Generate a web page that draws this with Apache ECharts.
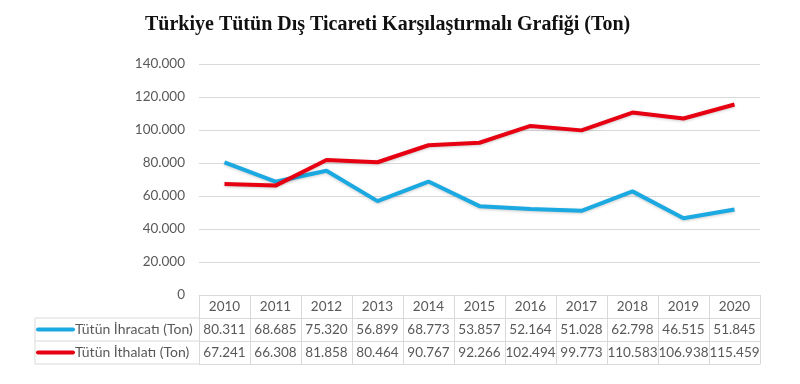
<!DOCTYPE html>
<html><head><meta charset="utf-8">
<script src="https://cdn.jsdelivr.net/npm/echarts@6/dist/echarts.min.js"></script>
<style>html,body{margin:0;padding:0;background:#fff}#c{width:800px;height:384px}</style>
</head><body><div id="c"></div>
<script>
const titleText = 'Türkiye Tütün Dış Ticareti Karşılaştırmalı Grafiği (Ton)';
const years = ['2010','2011','2012','2013','2014','2015','2016','2017','2018','2019','2020'];
const exportName = 'Tütün İhracatı (Ton)';
const importName = 'Tütün İthalatı (Ton)';
const exportValues = [80311, 68685, 75320, 56899, 68773, 53857, 52164, 51028, 62798, 46515, 51845];
const importValues = [67241, 66308, 81858, 80464, 90767, 92266, 102494, 99773, 110583, 106938, 115459];
const yTicks = [0, 20000, 40000, 60000, 80000, 100000, 120000, 140000];

function fmt(v){ return String(v).replace(/\B(?=(\d{3})+(?!\d))/g, '.'); }

const blue = '#1AA9E0', red = '#E60012', gridC = '#d9d9d9', textC = '#595959';
const font = 'Lato';
const chart = echarts.init(document.getElementById('c'));
const rowH = 23;
function tableAxis(data, offset, showLabel){
  return {
    type:'category', data:data, position:'bottom', offset:offset, gridIndex:0,
    boundaryGap:true,
    axisLine:{show:true, lineStyle:{color:gridC, width:1}},
    axisTick:{show:showLabel, length:rowH, lineStyle:{color:gridC}},
    axisLabel:{show:showLabel, color:textC, fontFamily:font, fontSize:13.5, margin:5, interval:0}
  };
}
chart.setOption({
  animation:false,
  title:{text:titleText, left:140, top:10, textStyle:{fontFamily:'Liberation Serif', fontWeight:'bold', fontSize:20, color:'#111'}},
  grid:{left:199, right:40, top:64, bottom:89},
  xAxis:[
    tableAxis(years, 0, true),
    tableAxis(exportValues.map(fmt), rowH, true),
    tableAxis(importValues.map(fmt), rowH*2, true),
    tableAxis(years.map(()=>''), rowH*3, false)
  ],
  yAxis:{type:'value', min:yTicks[0], max:yTicks[yTicks.length-1], interval:20000,
    axisLine:{show:false}, axisTick:{show:false},
    splitLine:{lineStyle:{color:gridC, width:1}},
    axisLabel:{formatter:fmt, color:textC, fontFamily:font, fontSize:13.5, margin:14}},
  series:[
    {name:exportName, type:'line', data:exportValues, xAxisIndex:0, symbol:'none',
     lineStyle:{color:blue, width:4, shadowColor:'rgba(0,0,0,0.2)', shadowBlur:3, shadowOffsetY:1}, itemStyle:{color:blue}},
    {name:importName, type:'line', data:importValues, xAxisIndex:0, symbol:'none',
     lineStyle:{color:red, width:4, shadowColor:'rgba(0,0,0,0.2)', shadowBlur:3, shadowOffsetY:1}, itemStyle:{color:red}}
  ],
  graphic:[
    {type:'line', shape:{x1:35,y1:295+rowH,x2:199,y2:295+rowH}, style:{stroke:gridC, lineWidth:1}},
    {type:'line', shape:{x1:35,y1:295+rowH*2,x2:199,y2:295+rowH*2}, style:{stroke:gridC, lineWidth:1}},
    {type:'line', shape:{x1:35,y1:295+rowH*3,x2:199,y2:295+rowH*3}, style:{stroke:gridC, lineWidth:1}},
    {type:'line', shape:{x1:35,y1:295+rowH,x2:35,y2:295+rowH*3}, style:{stroke:gridC, lineWidth:1}},
    {type:'line', shape:{x1:38,y1:295+rowH*1.5,x2:73,y2:295+rowH*1.5}, style:{stroke:blue, lineWidth:4, lineCap:'round'}},
    {type:'line', shape:{x1:38,y1:295+rowH*2.5,x2:73,y2:295+rowH*2.5}, style:{stroke:red, lineWidth:4, lineCap:'round'}},
    {type:'text', x:75, y:295+rowH*1.5, style:{text:exportName, fill:textC, font:'14px '+font, textVerticalAlign:'middle'}},
    {type:'text', x:75, y:295+rowH*2.5, style:{text:importName, fill:textC, font:'14px '+font, textVerticalAlign:'middle'}}
  ]
});
</script></body></html>
